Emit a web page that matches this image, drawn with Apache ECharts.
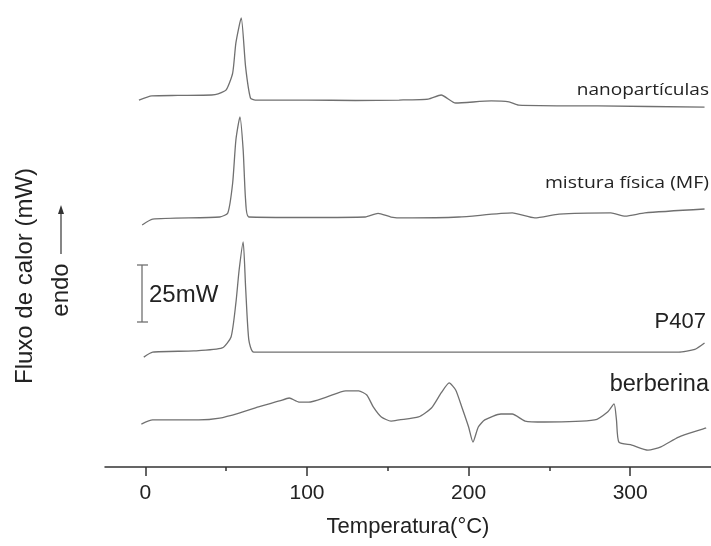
<html>
  <head>
    <meta http-equiv="Content-Type" content="text/html; charset=utf-8" />
    <script src="https://cdn.jsdelivr.net/npm/echarts@6/dist/echarts.min.js"></script>
  </head>
  <body style="margin:0">
    <div id="main" style="width: 711px;height:546px;"></div>
    <script type="text/javascript">
// curvas DSC, [temperatura (°C), fluxo de calor (mW, deslocado)]
var nano = [[-4,160.6],[4,162.4],[20,162.6],[41,162.8],[45,163.3],[50,165.0],[54,172.4],[56,185.6],[59.3,196.5],[62,175.1],[65,161.5],[68,160.6],
  [100,160.6],[130,160.4],[157,160.6],[175,161.0],[183,162.8],[192,159.3],[214,160.2],[225,159.8],[231,158.4],[280,158.0],[346,157.5]];
var mistura = [[-2,105.9],[4.5,108.5],[46,109.4],[51,111.2],[54,124.3],[56,143.1],[58.5,153.2],[60.5,138.7],[62,116.8],[64,109.4],
  [100,109.2],[136,109.4],[144,111.0],[152,109.4],[160,109.0],[194,109.4],[227,111.2],[241,109.0],[256,110.7],[288,111.2],[297,109.8],[309,111.2],[346,112.9]];
var p407 = [[-1,48.1],[4.5,50.3],[30,50.8],[47.5,52.1],[53,56.9],[56,71.8],[58,86.2],[60.5,98.5],[62,78.8],[64,55.6],[67,50.3],
  [150,50.3],[250,50.3],[330,50.3],[340,51.5],[346,54.3]];
var berberina = [[-2.5,18.8],[4.5,20.6],[33,20.6],[46,21.4],[58,23.6],[70,26.3],[83,28.9],[89,30.2],[95,28.4],[101,28.4],[112,30.6],[124,33.3],
  [132,33.3],[137,31.5],[141,26.3],[146,21.9],[152,20.1],[157,20.6],[169,21.9],[177,25.8],[183,32.4],[188,36.8],[192,33.7],[196,25.8],
  [200,17.5],[202.7,10.9],[206,17.5],[210,20.6],[220,23.2],[227,23.2],[235,20.1],[247,19.7],[278,20.6],[286,24.1],[290,27.6],[291.5,20.6],
  [293,10.9],[301,9.6],[311,7.4],[319,8.8],[330,13.1],[347,17.1]];
var majorTicks = [0, 100, 200, 300];
var minorTicks = [50, 150, 250];

var myChart = echarts.init(document.getElementById('main'));
var lineCol = '#707070';
var txtCol = '#222';
var fam = '"Liberation Sans", Arial, sans-serif';

function curve(d) {
  return {type: 'line', data: d, showSymbol: false, symbol: 'none', silent: true,
    smooth: 0.2,
    lineStyle: {color: lineCol, width: 1.3}};
}

var option = {
  animation: false,
  grid: {left: 105, right: 0, top: 10, bottom: 79},
  xAxis: [{
    type: 'value', min: -25, max: 350,
    name: 'Temperatura(°C)', nameLocation: 'middle', nameGap: 49,
    nameTextStyle: {fontSize: 22, color: txtCol, fontFamily: fam},
    axisLine: {lineStyle: {color: '#333', width: 1.5}},
    axisTick: {customValues: majorTicks, length: 9, lineStyle: {color: '#333', width: 1.5}},
    axisLabel: {customValues: majorTicks, fontSize: 21, color: txtCol, fontFamily: fam, margin: 16},
    splitLine: {show: false}
  }, {
    type: 'value', min: -25, max: 350, position: 'bottom',
    axisLine: {show: false},
    axisTick: {customValues: minorTicks, length: 4, lineStyle: {color: '#333', width: 1.5}},
    axisLabel: {show: false},
    splitLine: {show: false}
  }],
  yAxis: {type: 'value', min: 0, max: 200, show: false},
  series: [curve(nano), curve(mistura), curve(p407), curve(berberina)],
  graphic: [
    {type: 'text', x: 709, y: 90, scaleX: 1.12,
      style: {x: 0, y: 0, text: 'nanopartículas', textAlign: 'right', textVerticalAlign: 'middle', fontSize: 17, fontFamily: '"Open Sans"', fill: txtCol}},
    {type: 'text', x: 709, y: 183, scaleX: 1.14,
      style: {x: 0, y: 0, text: 'mistura física (MF)', textAlign: 'right', textVerticalAlign: 'middle', fontSize: 17, fontFamily: '"Open Sans"', fill: txtCol}},
    {type: 'text', style: {x: 706, y: 322, text: 'P407', textAlign: 'right', textVerticalAlign: 'middle', fontSize: 22, fontFamily: fam, fill: txtCol}},
    {type: 'text', style: {x: 709, y: 385, text: 'berberina', textAlign: 'right', textVerticalAlign: 'middle', fontSize: 23.5, fontFamily: fam, fill: txtCol}},
    {type: 'text', style: {x: 149, y: 295, text: '25mW', textAlign: 'left', textVerticalAlign: 'middle', fontSize: 24, fontFamily: fam, fill: txtCol}},
    {type: 'polyline', shape: {points: [[137, 265], [148, 265]]}, style: {stroke: lineCol, lineWidth: 1.3}},
    {type: 'polyline', shape: {points: [[142, 265], [142, 322]]}, style: {stroke: lineCol, lineWidth: 1.3}},
    {type: 'polyline', shape: {points: [[137, 322], [148, 322]]}, style: {stroke: lineCol, lineWidth: 1.3}},
    {type: 'text', x: 25, y: 276, rotation: Math.PI / 2,
      style: {x: 0, y: 0, text: 'Fluxo de calor (mW)', textAlign: 'center', textVerticalAlign: 'middle', fontSize: 24, fontFamily: fam, fill: txtCol}},
    {type: 'text', x: 61, y: 290, rotation: Math.PI / 2,
      style: {x: 0, y: 0, text: 'endo', textAlign: 'center', textVerticalAlign: 'middle', fontSize: 24, fontFamily: fam, fill: txtCol}},
    {type: 'polyline', shape: {points: [[61, 254], [61, 212]]}, style: {stroke: '#444', lineWidth: 1.3}},
    {type: 'polygon', shape: {points: [[61, 205], [58, 214], [64, 214]]}, style: {fill: '#333'}}
  ]
};

myChart.setOption(option);
    </script>
  </body>
</html>
